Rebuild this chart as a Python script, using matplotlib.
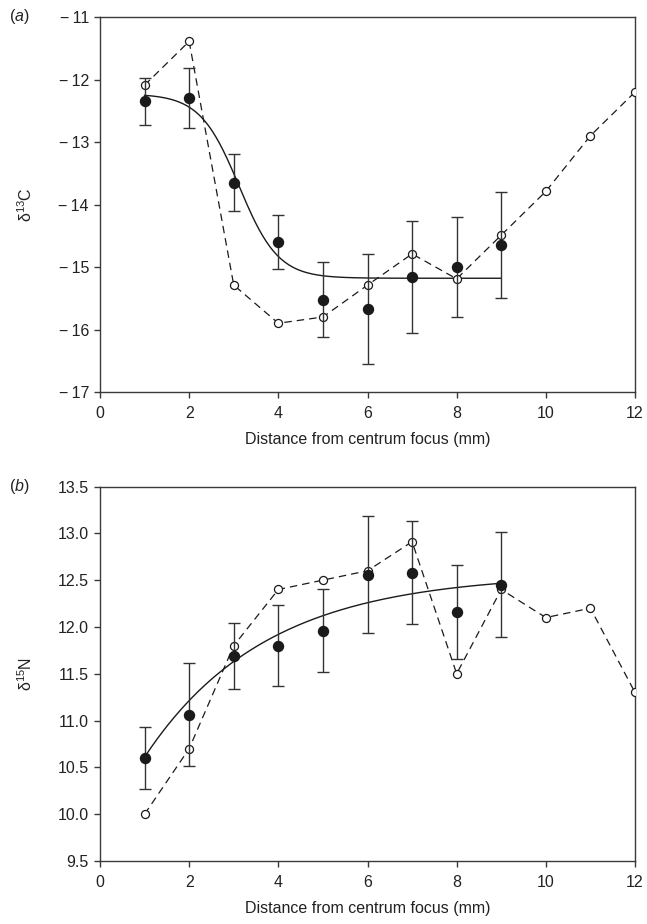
import numpy as np
import matplotlib
matplotlib.use("Agg")
import matplotlib.pyplot as plt

plt.rcParams['font.family'] = ['Liberation Sans', 'DejaVu Sans']
plt.rcParams['mathtext.fontset'] = 'custom'
plt.rcParams['mathtext.rm'] = 'Liberation Sans'
plt.rcParams['mathtext.it'] = 'Liberation Sans:italic'

# ---------------- data ----------------
x_mean = [1, 2, 3, 4, 5, 6, 7, 8, 9]
x_ind = [1, 2, 3, 4, 5, 6, 7, 8, 9, 10, 11, 12]

c13_mean = [-12.35, -12.29, -13.65, -14.60, -15.52, -15.67, -15.16, -15.00, -14.65]
c13_err = [0.38, 0.48, 0.46, 0.43, 0.60, 0.88, 0.90, 0.80, 0.85]
c13_ind = [-12.09, -11.39, -15.29, -15.90, -15.80, -15.29, -14.79, -15.19, -14.49, -13.79, -12.90, -12.20]

n15_mean = [10.60, 11.06, 11.69, 11.80, 11.96, 12.56, 12.58, 12.16, 12.45]
n15_err = [0.33, 0.55, 0.35, 0.43, 0.44, 0.62, 0.55, 0.50, 0.56]
n15_ind = [10.00, 10.70, 11.80, 12.40, 12.50, 12.60, 12.91, 11.50, 12.40, 12.10, 12.20, 11.30]

# fitted curves (parameters)
c13_fit = dict(low=-15.18, amp=2.95, mid=3.12, scale=0.438)   # logistic
n15_fit = dict(asym=12.57, amp=1.96, rate=0.368)              # exponential rise

x_ticks = [0, 2, 4, 6, 8, 10, 12]
c13_ticks = [-17, -16, -15, -14, -13, -12, -11]
n15_ticks = [9.5, 10.0, 10.5, 11.0, 11.5, 12.0, 12.5, 13.0, 13.5]

# ---------------- figure ----------------
W, H = 647, 924
fig = plt.figure(figsize=(W / 100, H / 100), dpi=100)

ax1 = fig.add_axes([100 / W, 1 - 392 / H, 535 / W, 375 / H])
ax2 = fig.add_axes([100 / W, 1 - 861 / H, 535 / W, 374.5 / H])

spine_col = '#3a3a3a'
dark = '#1a1a1a'
txt = '#222222'
FS = 11.5

def style(ax):
    for s in ax.spines.values():
        s.set_color(spine_col)
        s.set_linewidth(1.0)
    ax.tick_params(direction='out', length=4, width=1.0, color=spine_col,
                   labelsize=FS, labelcolor=txt, top=False, right=False)
    ax.tick_params(axis='x', pad=6)
    ax.tick_params(axis='y', pad=4)

def draw(ax, mean, err, ind, fit_x, fit_y):
    ax.plot(x_ind, ind, linestyle=(0, (6, 4)), color=dark, lw=0.9,
            marker='o', markersize=5.8, markerfacecolor='white',
            markeredgecolor=dark, markeredgewidth=0.9, zorder=3)
    ax.plot(fit_x, fit_y, color=dark, lw=1.0, zorder=2)
    ax.errorbar(x_mean, mean, yerr=err, fmt='none', ecolor='#333333',
                elinewidth=1.0, capsize=4, capthick=1.0, zorder=4)
    ax.plot(x_mean, mean, linestyle='none', marker='o', markersize=7.2,
            markerfacecolor=dark, markeredgecolor=dark, zorder=5)

xf = np.linspace(x_mean[0], x_mean[-1], 300)
yf1 = c13_fit['low'] + c13_fit['amp'] / (1 + np.exp((xf - c13_fit['mid']) / c13_fit['scale']))
yf2 = n15_fit['asym'] - n15_fit['amp'] * np.exp(-n15_fit['rate'] * (xf - x_mean[0]))

draw(ax1, c13_mean, c13_err, c13_ind, xf, yf1)
draw(ax2, n15_mean, n15_err, n15_ind, xf, yf2)

for ax in (ax1, ax2):
    style(ax)
    ax.set_xlim(0, 12)
    ax.set_xticks(x_ticks)
    ax.set_xlabel('Distance from centrum focus (mm)', fontsize=FS, color=txt)
    ax.xaxis.set_label_coords(0.5, -40 / 375, transform=ax.transAxes)

ax1.set_ylim(-17, -11)
ax1.set_yticks(c13_ticks)
ax1.set_yticklabels(['\u2212\u2009%d' % abs(t) for t in c13_ticks])
ax2.set_ylim(9.5, 13.5)
ax2.set_yticks(n15_ticks)
ax2.set_yticklabels(['%.1f' % t for t in n15_ticks])

ax1.set_ylabel(r'$\mathregular{\delta^{13}C}$', fontsize=FS, color=txt)
ax2.set_ylabel(r'$\mathregular{\delta^{15}N}$', fontsize=FS, color=txt)
for ax in (ax1, ax2):
    ax.yaxis.set_label_coords(-65 / 535, 0.5)

fig.text(19 / W, 1 - 17 / H, r'($\mathit{a}$)', fontsize=FS, ha='center', va='center', color=txt)
fig.text(19 / W, 1 - 486 / H, r'($\mathit{b}$)', fontsize=FS, ha='center', va='center', color=txt)

fig.savefig('out.png', dpi=100)
